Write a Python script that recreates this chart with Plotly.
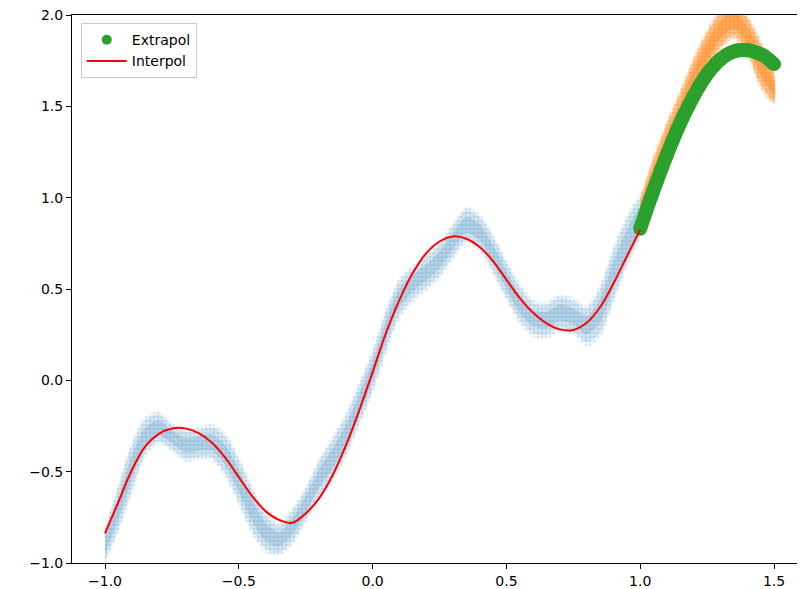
import plotly.graph_objects as go

# ---------------- data ----------------
# Interpolation fit (red line)
interp_x = [-1.00, -0.95, -0.90, -0.85, -0.80, -0.75, -0.70, -0.65, -0.60, -0.55,
            -0.50, -0.45, -0.40, -0.35, -0.30, -0.25, -0.20, -0.15, -0.10, -0.05,
            0.00, 0.05, 0.10, 0.15, 0.20, 0.25, 0.30, 0.35, 0.40, 0.45,
            0.50, 0.55, 0.60, 0.65, 0.70, 0.75, 0.80, 0.85, 0.90, 0.95, 1.00]
interp_y = [-0.838, -0.666, -0.492, -0.363, -0.294, -0.264, -0.263, -0.289, -0.342, -0.425,
            -0.530, -0.634, -0.716, -0.764, -0.780, -0.729, -0.646, -0.521, -0.358, -0.165,
            0.045, 0.259, 0.439, 0.587, 0.695, 0.760, 0.788, 0.775, 0.730, 0.653,
            0.551, 0.450, 0.370, 0.312, 0.279, 0.276, 0.315, 0.400, 0.530, 0.678, 0.826]

# Training data cloud (blue): centre and vertical half-width of the band
train_x = interp_x
train_c = [-0.90, -0.70, -0.48, -0.31, -0.26, -0.31, -0.355, -0.345, -0.34, -0.41,
           -0.55, -0.71, -0.83, -0.87, -0.80, -0.68, -0.54, -0.43, -0.30, -0.13,
           0.05, 0.27, 0.45, 0.53, 0.59, 0.66, 0.76, 0.85, 0.81, 0.69,
           0.55, 0.42, 0.34, 0.33, 0.37, 0.35, 0.30, 0.38, 0.58, 0.76, 0.90]
train_h = [0.09, 0.12, 0.13, 0.10, 0.08, 0.07, 0.08, 0.08, 0.09, 0.11,
           0.12, 0.12, 0.10, 0.08, 0.09, 0.09, 0.10, 0.11, 0.11, 0.11,
           0.11, 0.11, 0.10, 0.09, 0.09, 0.09, 0.09, 0.09, 0.09, 0.10,
           0.10, 0.10, 0.09, 0.09, 0.09, 0.09, 0.10, 0.13, 0.14, 0.13, 0.10]

# Extrapolation data cloud (orange)
test_x = [1.00, 1.05, 1.10, 1.15, 1.20, 1.25, 1.30, 1.35, 1.40, 1.45, 1.50]
test_c = [0.93, 1.12, 1.30, 1.47, 1.65, 1.80, 1.92, 1.97, 1.89, 1.73, 1.60]
test_h = [0.07, 0.10, 0.11, 0.11, 0.11, 0.11, 0.10, 0.09, 0.10, 0.12, 0.08]

# Extrapolation prediction (green)
extra_x = [1.00, 1.02, 1.04, 1.06, 1.08, 1.10, 1.12, 1.14, 1.16, 1.18, 1.20, 1.22, 1.24,
           1.26, 1.28, 1.30, 1.32, 1.34, 1.36, 1.38, 1.40, 1.42, 1.44, 1.46, 1.48, 1.50]
extra_y = [0.830, 0.917, 1.000, 1.081, 1.160, 1.235, 1.308, 1.377, 1.441, 1.501, 1.557, 1.609, 1.655,
           1.695, 1.729, 1.757, 1.779, 1.795, 1.805, 1.809, 1.807, 1.802, 1.792, 1.778, 1.757, 1.731]

x_ticks = [-1.0, -0.5, 0.0, 0.5, 1.0, 1.5]
x_ticktext = ["\u22121.0", "\u22120.5", "0.0", "0.5", "1.0", "1.5"]
y_ticks = [-1.0, -0.5, 0.0, 0.5, 1.0, 1.5, 2.0]
y_ticktext = ["\u22121.0", "\u22120.5", "0.0", "0.5", "1.0", "1.5", "2.0"]

BLUE = (31, 119, 180)
ORANGE = (255, 127, 14)
GREEN = "#2ca02c"
RED = "#ff0000"
FONT = "DejaVu Sans"


def band(xs, cs, hs, scale, rgb, alpha, pattern=None):
    up = [c + h * scale for c, h in zip(cs, hs)]
    lo = [c - h * scale for c, h in zip(cs, hs)]
    kw = {}
    if pattern is not None:
        kw["fillpattern"] = pattern
        fill_col = "rgba(0,0,0,0)"
    else:
        fill_col = "rgba(%d,%d,%d,%.2f)" % (rgb[0], rgb[1], rgb[2], alpha)
    return go.Scatter(
        x=list(xs) + list(xs)[::-1],
        y=up + lo[::-1],
        mode="lines",
        line=dict(width=0, shape="spline", smoothing=0.8),
        fill="toself",
        fillcolor=fill_col,
        hoverinfo="skip",
        showlegend=False,
        **kw,
    )


fig = go.Figure()

# blue cloud: speckled outer fringe + denser core
fig.add_trace(band(train_x, train_c, train_h, 1.12, BLUE, 0.0,
                   pattern=dict(shape=".", fgcolor="rgba(31,119,180,0.35)",
                                bgcolor="rgba(31,119,180,0.06)", size=4, solidity=0.35,
                                fillmode="overlay")))
fig.add_trace(band(train_x, train_c, train_h, 0.9, BLUE, 0.14))
fig.add_trace(band(train_x, train_c, train_h, 0.5, BLUE, 0.18))
# orange cloud
fig.add_trace(band(test_x, test_c, test_h, 1.12, ORANGE, 0.0,
                   pattern=dict(shape=".", fgcolor="rgba(255,127,14,0.6)",
                                bgcolor="rgba(255,127,14,0.15)", size=4, solidity=0.4,
                                fillmode="overlay")))
fig.add_trace(band(test_x, test_c, test_h, 0.9, ORANGE, 0.4))
fig.add_trace(band(test_x, test_c, test_h, 0.5, ORANGE, 0.4))

# green prediction (thick dotted band)
fig.add_trace(go.Scatter(
    x=extra_x, y=extra_y, mode="lines",
    line=dict(color=GREEN, width=14, shape="spline"),
    showlegend=False, hoverinfo="skip"))
fig.add_trace(go.Scatter(
    x=extra_x, y=extra_y, mode="markers",
    marker=dict(color=GREEN, size=14, line=dict(width=0)),
    showlegend=False))

# red interpolation
fig.add_trace(go.Scatter(
    x=interp_x, y=interp_y, mode="lines",
    line=dict(color=RED, width=2, shape="spline"),
    name="Interpol", legendrank=2))

# legend entry for Extrapol (small marker as in the reference legend)
fig.add_trace(go.Scatter(
    x=[None], y=[None], mode="markers",
    marker=dict(color=GREEN, size=10),
    name="Extrapol", legendrank=1))

axis_common = dict(
    showgrid=False, zeroline=False, showline=True, linecolor="black", linewidth=1,
    ticks="outside", ticklen=5, tickwidth=1, tickcolor="black",
    ticklabeloverflow="allow",
    tickfont=dict(family=FONT, size=14, color="black"),
)

# the page body adds an 8 px offset, so the figure is 8 px smaller
fig.update_layout(
    width=797, height=581,
    margin=dict(l=64, r=0, t=7, b=26, pad=0),
    paper_bgcolor="white", plot_bgcolor="white",
    font=dict(family=FONT, size=14, color="black"),
    xaxis=dict(range=[-1.1233, 1.6158], tickvals=x_ticks, ticktext=x_ticktext,
               mirror=True, **axis_common),
    yaxis=dict(range=[-1.0, 2.0], tickvals=y_ticks, ticktext=y_ticktext,
               mirror=False, **axis_common),
    legend=dict(x=0.012, y=0.985, xanchor="left", yanchor="top",
                bgcolor="rgba(255,255,255,0.85)", bordercolor="#cccccc", borderwidth=1,
                itemwidth=40,
                font=dict(family=FONT, size=14, color="black")),
    showlegend=True,
)

fig.write_html("out.html")
